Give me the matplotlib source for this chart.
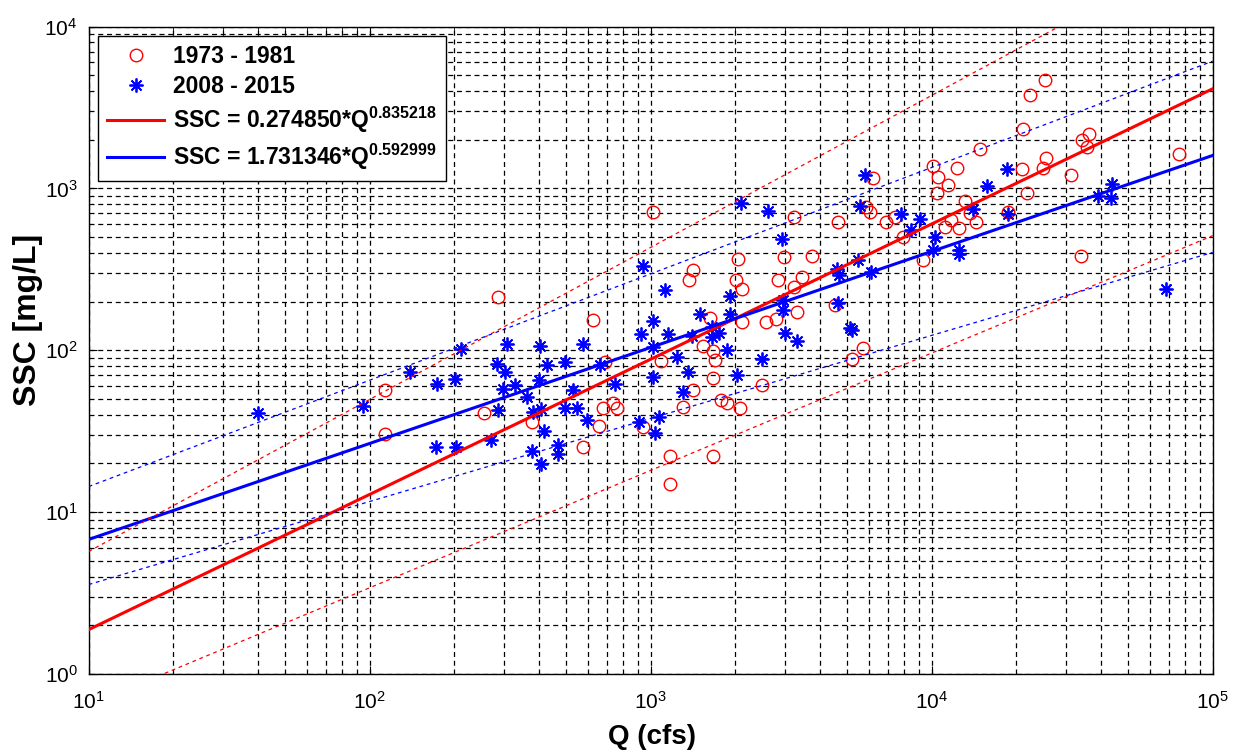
import numpy as np
import matplotlib
matplotlib.use('Agg')
import matplotlib.pyplot as plt
from matplotlib.ticker import LogLocator, FuncFormatter, NullFormatter

plt.rcParams['font.family'] = ['Liberation Sans', 'DejaVu Sans']
plt.rcParams['mathtext.fontset'] = 'custom'
plt.rcParams['mathtext.rm'] = 'Liberation Sans'
plt.rcParams['mathtext.bf'] = 'Liberation Sans:bold'

# 1973 - 1981 samples (red circles)
q_old = [113, 113, 1021, 287, 625, 687, 1088, 733, 678, 757, 255, 377, 657, 937,
         576, 1172, 1172, 10140, 10560, 10470, 6170, 5840, 6030, 3236, 4630, 6870,
         7400, 7880, 9340, 2050, 2978, 3738, 1418, 1372, 2012, 2110, 2846, 3445,
         3236, 4530, 3325, 2793, 2572, 2110, 1625, 5710, 5200, 1540, 1670, 1693,
         1663, 2483, 1418, 1775, 1875, 1300, 2080, 1663, 25350, 22400, 21200,
         14860, 12270, 11450, 20900, 24950, 25500, 34200, 36400, 35800, 31250,
         76000, 21780, 13150, 13680, 14380, 11700, 11150, 12540, 18740, 33900]
ssc_old = [56.6, 30.2, 714, 213, 153, 84.7, 85.9, 47.5, 43.7, 43.7, 40.7, 35.8, 34.0,
           33.4, 25.1, 22.2, 15.0, 1367, 1175, 935, 1165, 767, 715, 665, 620, 620,
           665, 500, 359, 368, 377, 382, 315, 270, 273, 240, 270, 283, 246, 191,
           172, 157, 150, 150, 159, 104, 88.9, 106, 99, 86.7, 67.8, 60.8, 56.6,
           49.1, 47.3, 44.7, 43.7, 22.2, 4690, 3750, 2312, 1740, 1342, 1044, 1324,
           1342, 1549, 1977, 2175, 1800, 1218, 1622, 935, 835, 705, 620, 634, 577,
           572, 714, 380]

# 2008 - 2015 samples (blue asterisks)
q_new = [40, 94.4, 941, 1124, 1021, 921, 1155, 307, 404, 576, 212, 1021, 284, 427,
         495, 139, 303, 661, 174, 201, 299, 329, 402, 746, 528, 364, 287, 380, 407,
         495, 548, 592, 417, 911, 1073, 1036, 270, 172, 203, 377, 467, 467, 406,
         1021, 5795, 5560, 2090, 2622, 7810, 9080, 8415, 10280, 10140, 2928, 4590,
         4690, 5480, 6070, 1915, 2951, 4655, 2966, 1915, 1497, 1399, 1648, 1755,
         1648, 3006, 3325, 5120, 5200, 1243, 1875, 2483, 1360, 2033, 1300, 18570,
         15780, 14000, 18740, 12540, 12540, 43800, 39200, 43400, 68200]
ssc_new = [40.7, 45.1, 330, 237, 151, 125.6, 125.6, 110, 107, 110, 102, 105, 82.8,
           81.6, 84.7, 73.5, 73.5, 80.8, 62.2, 66.8, 58, 61.4, 65.3, 62.2, 57.2,
           51.5, 42.7, 41.3, 43.1, 43.7, 44.3, 37, 31.8, 35.8, 38.5, 31, 28.1, 25.1,
           25.1, 23.9, 25.9, 23, 19.8, 68.4, 1216, 778, 817, 725, 692, 650, 556,
           500, 414, 489, 319, 290, 359, 304, 215, 205, 196, 177, 168, 168, 122,
           139, 128, 121, 127, 114, 138, 133, 90.9, 100, 87.7, 73.5, 70.1, 55.3,
           1324, 1028, 750, 692, 418, 395, 1070, 895, 877, 240]

# rating curves SSC = a*Q^b  (from legend)
fit_a = [0.274850, 1.731346]
fit_b = [0.835218, 0.592999]
# dashed bounds (upper, lower)
red_band_a = [0.658, 0.121]
red_band_b = [0.939, 0.725]
blue_band_a = [3.17, 1.096]
blue_band_b = [0.657, 0.513]

fig = plt.figure(figsize=(12.35, 7.51), dpi=100)
ax = fig.add_axes([0.0718, 0.1025, 0.9101, 0.8622])

h1, = ax.plot(q_old, ssc_old, 'o', mfc='none', mec='#ff0000', ms=9, mew=1.0,
              label='1973 - 1981', zorder=3)
h2, = ax.plot(q_new, ssc_new, ls='none', marker=(8, 2, 0), color='#0000ff', ms=10,
              mew=1.3, label='2008 - 2015', zorder=3)

qq = np.array([10.0, 1e5])
h3, = ax.plot(qq, fit_a[0] * qq ** fit_b[0], color='#ff0000', lw=2.2, zorder=4,
              label=r'SSC = 0.274850*Q$^{\mathregular{0.835218}}$')
h4, = ax.plot(qq, fit_a[1] * qq ** fit_b[1], color='#0000ff', lw=2.2, zorder=4,
              label=r'SSC = 1.731346*Q$^{\mathregular{0.592999}}$')
for a, b in zip(red_band_a, red_band_b):
    ax.plot(qq, a * qq ** b, color='#ff0000', lw=0.9, ls=(0, (3, 3)), zorder=4)
for a, b in zip(blue_band_a, blue_band_b):
    ax.plot(qq, a * qq ** b, color='#0000ff', lw=0.9, ls=(0, (3, 3)), zorder=4)

ax.set_xscale('log')
ax.set_yscale('log')
ax.set_xlim(10, 1e5)
ax.set_ylim(1, 1e4)

fmt = FuncFormatter(lambda v, p: r'$\mathregular{10^{%d}}$' % round(np.log10(v)))
for axis in (ax.xaxis, ax.yaxis):
    axis.set_major_locator(LogLocator(base=10, numticks=10))
    axis.set_minor_locator(LogLocator(base=10, subs=np.arange(2, 10), numticks=10))
    axis.set_major_formatter(fmt)
    axis.set_minor_formatter(NullFormatter())

ax.set_axisbelow(True)
ax.grid(True, which='both', color='k', ls=(0, (4, 3)), lw=0.9)
ax.tick_params(which='both', direction='in', top=True, right=True, labelsize=15,
               colors='k')
ax.tick_params(which='major', length=6)
ax.tick_params(axis='x', which='major', pad=12)
ax.tick_params(axis='y', which='major', pad=8)
ax.tick_params(which='minor', length=3)
for s in ax.spines.values():
    s.set_color('k')
    s.set_linewidth(1.0)

fig.text(652 / 1235, 1 - 737 / 751, 'Q (cfs)', fontsize=20, fontweight='bold',
         ha='center', va='center')
fig.text(28 / 1235, 1 - 320 / 751, 'SSC [mg/L]', fontsize=23, fontweight='bold',
         rotation=90, ha='center', va='center')

leg = ax.legend(handles=[h1, h2, h3, h4], loc='upper left',
                prop={'weight': 'bold', 'size': 16.5}, frameon=True, fancybox=False,
                framealpha=1, edgecolor='k', borderaxespad=0.4, handlelength=2.5,
                handletextpad=0.4, labelspacing=0.3, borderpad=0.4)
leg.get_frame().set_linewidth(1.0)

fig.savefig('out.png', dpi=100, facecolor='white')
